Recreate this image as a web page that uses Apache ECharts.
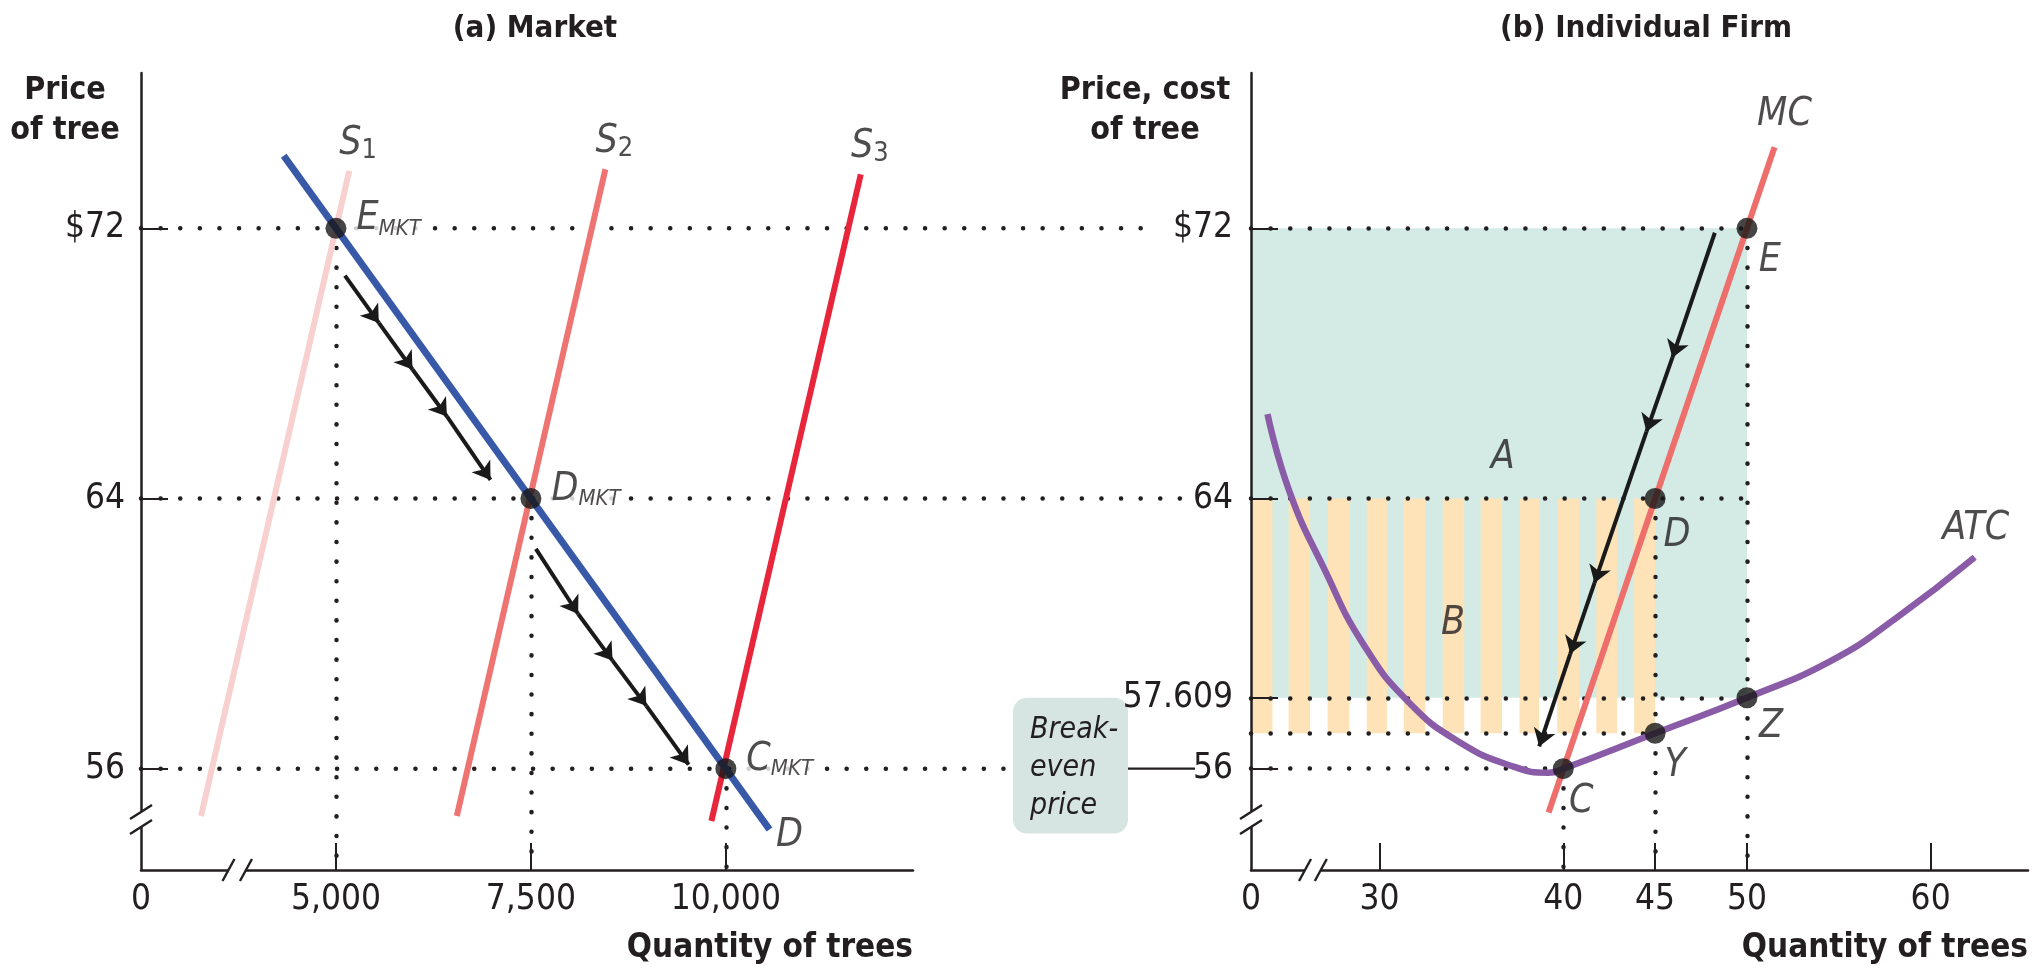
<!DOCTYPE html>
<html><head><meta charset="utf-8">
<script src="https://cdn.jsdelivr.net/npm/echarts@6/dist/echarts.min.js"></script>
<style>html,body{margin:0;padding:0;background:#fff}#c{width:2038px;height:978px}</style>
</head><body><div id="c"></div>
<script>
// ---------- DATA ----------
// Panel (a) Market
const mktQtyMin = 2500, mktQtyMax = 12400;          // axis shown with a break: 2500 is drawn as "0"
const mktQtyTickValues = [5000, 7500, 10000];
const mktQtyLabelValues = [2500, 5000, 7500, 10000];
const mktQtyLabels = ['0', '5,000', '7,500', '10,000'];
const priceMin = 53, priceMax = 76.6;
const mktPriceTickValues = [56, 64, 72];
const mktPriceLabels = ['56', '64', '$72'];
const demand = [[4330, 74.15], [10560, 54.2]];
const supply1 = [[3270, 54.6], [5170, 73.7]];
const supply2 = [[6550, 54.6], [8455, 73.75]];
const supply3 = [[9815, 54.45], [11730, 73.6]];
const mktPoints = [['E', 5000, 72], ['D', 7500, 64], ['C', 10000, 56]];
const mktArrow1 = [[5115, 70.6], [5550, 69.2], [5982, 67.82], [6423, 66.43], [6982, 64.55]];
const mktArrow2 = [[7564, 62.51], [8106, 60.58], [8547, 59.2], [8981, 57.86], [9523, 56.12]];
const mktAxisBreakQ = [3622, 3846];
const axisBreakP = [54.72, 54.27];

// Panel (b) Individual firm
const firmQtyMin = 23, firmQtyMax = 65.3;            // 23 is drawn as "0" (axis break)
const firmQtyTickValues = [30, 40, 45, 50, 60];
const firmQtyLabelValues = [23, 30, 40, 45, 50, 60];
const firmQtyLabels = ['0', '30', '40', '45', '50', '60'];
const firmPriceTickValues = [56, 58.1, 64, 72];
const firmPriceLabels = ['56', '57.609', '64', '$72'];
const mc = [[39.2, 54.7], [51.5, 74.4]];
const atc = [[23.9, 66.5], [25.1, 64.2], [27, 61.9], [29.1, 59.7], [31.6, 57.96], [34.4, 56.77],
             [37.3, 56.06], [39.2, 55.88], [40, 56], [45, 57.05], [50, 58.1], [54.6, 59.2],
             [58.1, 60.45], [62.4, 62.26]];
const firmPoints = [['E', 50, 72], ['D', 45, 64], ['C', 40, 56], ['Y', 45, 57.05], ['Z', 50, 58.1]];
const firmArrow = [[48.25, 71.87], [45.94, 68.17], [44.53, 65.98], [41.7, 61.5], [40.38, 59.4], [38.69, 56.66]];
const profitArea = {q: [23, 50], p: [58.1, 72]};     // region A (teal)
const lossBand = {p: [57.05, 64]};                   // region B (striped)
const lossStripes = [[23, 24.17], [25.05, 26.22], [27.17, 28.35], [29.3, 30.4], [31.32, 32.49],
                     [33.44, 34.61], [35.5, 36.67], [37.62, 38.68], [39.67, 40.88], [41.8, 42.93], [43.86, 45]];
const firmGuidesH = [[72, 50], [64, 50], [58.1, 50], [57.05, 45], [56, 40]]; // [price, to quantity]
const firmGuidesV = [[50, 72], [45, 64], [40, 56]];                           // [quantity, from price]
const regionLabels = [['A', 36.7, 65.2], ['B', 34, 60.3]];
const firmAxisBreakQ = [25.94, 26.8];
const breakEvenText = 'Break-\neven\nprice';

// ---------- STYLE ----------
const FONT = "'Liberation Sans Narrow','DejaVu Sans Condensed','Liberation Sans',sans-serif";
const INK = '#231f20';
const dotLine = {type: [0.1, 19.5], cap: 'round', width: 4.5, color: INK};
const rich = {
  i: {fontFamily: FONT, fontStyle: 'italic', fontSize: 39, color: INK, lineHeight: 42},
  sub: {fontFamily: FONT, fontStyle: 'italic', fontSize: 22, color: INK, lineHeight: 12, verticalAlign: 'bottom'},
  n: {fontFamily: FONT, fontSize: 27, color: INK, lineHeight: 14, verticalAlign: 'bottom'}
};

function segs(arr) { const s = []; for (let i = 0; i < arr.length - 1; i++) s.push({coords: [arr[i], arr[i + 1]]}); return s; }

function makeXAxis(grid, min, max, ticks, labVals, labs) {
  return {
    gridIndex: grid, type: 'value', min: min, max: max, z: 5,
    axisLine: {onZero: false, lineStyle: {color: INK, width: 2.5}},
    axisTick: {inside: true, length: 27, customValues: ticks, lineStyle: {color: INK, width: 2}},
    axisLabel: {customValues: labVals, formatter: v => labs[labVals.indexOf(v)], fontFamily: FONT, fontSize: 35, color: INK, margin: 12},
    splitLine: {show: false},
    name: 'Quantity of trees', nameLocation: 'end', nameGap: 0,
    nameTextStyle: {fontFamily: FONT, fontWeight: 'bold', fontSize: 33, color: INK, align: 'right', verticalAlign: 'top', padding: [62, 0, 0, 0]}
  };
}
function makeYAxis(grid, ticks, labs, margin) {
  return {
    gridIndex: grid, type: 'value', min: priceMin, max: priceMax, z: 10,
    axisLine: {onZero: false, lineStyle: {color: INK, width: 2.5}},
    axisTick: {inside: true, length: 27, customValues: ticks, lineStyle: {color: INK, width: 2}},
    axisLabel: {customValues: ticks, formatter: v => labs[ticks.indexOf(v)], fontFamily: FONT, fontSize: 35, color: INK, margin: margin},
    splitLine: {show: false}
  };
}

const lineS = (data, color, width, xi, z) => ({type: 'line', xAxisIndex: xi, yAxisIndex: xi, data: data, symbol: 'none',
  lineStyle: {color: color, width: width, cap: 'butt'}, silent: true, z: z || 3});

const arrowS = (data, xi) => ({type: 'lines', coordinateSystem: 'cartesian2d', xAxisIndex: xi, yAxisIndex: xi,
  data: segs(data), symbol: ['none', 'arrow'], symbolSize: [8, 17],
  lineStyle: {color: '#1a1a1a', width: 4, curveness: 0, opacity: 1}, silent: true, z: 4});

const guideS = (data, xi) => ({type: 'lines', coordinateSystem: 'cartesian2d', xAxisIndex: xi, yAxisIndex: xi,
  data: data.map(c => ({coords: c})), symbol: 'none', lineStyle: Object.assign({opacity: 1, curveness: 0}, dotLine), silent: true, z: 2});

const textS = (items, xi, z) => ({type: 'scatter', xAxisIndex: xi, yAxisIndex: xi, symbolSize: 1, silent: true,
  itemStyle: {color: 'rgba(0,0,0,0)'}, z: z || 8, data: items});

// market guide lines: from each point down to the axis
const mktGuides = mktPoints.map(p => [[p[1], p[2]], [p[1], priceMin]]);
// firm guides
const firmGuides = firmGuidesH.map(g => [[firmQtyMin, g[0]], [g[1], g[0]]])
  .concat(firmGuidesV.map(g => [[g[0], g[1]], [g[0], priceMin]]));

const rightOff = {E: [23, 33], D: [22, 37], C: [18, 33], Y: [20, 33], Z: [24, 29]};

const option = {
  animation: false,
  backgroundColor: '#ffffff',
  textStyle: {fontFamily: FONT},
  title: [
    {text: '(a) Market', left: 530, top: 8, textAlign: 'center', textStyle: {fontFamily: FONT, fontWeight: 'bold', fontSize: 31, color: INK}},
    {text: '(b) Individual Firm', left: 1641, top: 8, textAlign: 'center', textStyle: {fontFamily: FONT, fontWeight: 'bold', fontSize: 31, color: INK}},
    {text: 'Price\nof tree', left: 60, top: 66, textAlign: 'center', textStyle: {fontFamily: FONT, fontWeight: 'bold', fontSize: 32, lineHeight: 40, color: INK}},
    {text: 'Price, cost\nof tree', left: 1140, top: 66, textAlign: 'center', textStyle: {fontFamily: FONT, fontWeight: 'bold', fontSize: 32, lineHeight: 40, color: INK}}
  ],
  grid: [
    {left: 141, right: 1125, top: 73, bottom: 108},
    {left: 1251, right: 10, top: 73, bottom: 108}
  ],
  xAxis: [
    makeXAxis(0, mktQtyMin, mktQtyMax, mktQtyTickValues, mktQtyLabelValues, mktQtyLabels),
    makeXAxis(1, firmQtyMin, firmQtyMax, firmQtyTickValues, firmQtyLabelValues, firmQtyLabels)
  ],
  yAxis: [
    makeYAxis(0, mktPriceTickValues, mktPriceLabels, 16),
    makeYAxis(1, firmPriceTickValues, firmPriceLabels, 18)
  ],
  series: [
    // ---- market ----
    guideS(mktGuides, 0),
    lineS(supply1, '#f8d0d0', 6, 0),
    lineS(supply2, '#ee7471', 6, 0),
    lineS(supply3, '#e8263b', 6, 0),
    lineS(demand, '#3858a8', 7, 0),
    arrowS(mktArrow1, 0),
    arrowS(mktArrow2, 0),
    {type: 'scatter', xAxisIndex: 0, yAxisIndex: 0, symbolSize: 21, itemStyle: {color: '#161616'}, silent: true, z: 6,
     data: mktPoints.map(p => ({value: [p[1], p[2]], label: {show: true, position: 'right', distance: 8, offset: [0, -9],
       backgroundColor: '#ffffff', padding: [0, 3, 0, 2],
       formatter: '{i|' + p[0] + '}{sub|MKT}', rich: rich}}))},
    textS([
      {value: supply1[1], label: {show: true, position: 'top', distance: 0, offset: [9, -6], formatter: '{i|S}{n|1}', rich: rich}},
      {value: supply2[1], label: {show: true, position: 'top', distance: 0, offset: [9, -6], formatter: '{i|S}{n|2}', rich: rich}},
      {value: supply3[1], label: {show: true, position: 'top', distance: 0, offset: [9, -6], formatter: '{i|S}{n|3}', rich: rich}},
      {value: demand[1], label: {show: true, position: 'inside', offset: [20, 6], formatter: '{i|D}', rich: rich}}
    ], 0),
    // ---- firm ----
    {type: 'line', xAxisIndex: 1, yAxisIndex: 1, data: [[profitArea.q[0], profitArea.p[0]]], symbol: 'none', silent: true, z: 1,
     lineStyle: {width: 0},
     markArea: {silent: true, label: {show: false},
       data: [[{coord: [profitArea.q[0], profitArea.p[0]], itemStyle: {color: '#d3ebe4'}}, {coord: [profitArea.q[1], profitArea.p[1]]}]]
         .concat(lossStripes.map(s => [{coord: [s[0], lossBand.p[0]], itemStyle: {color: '#fde3b7'}}, {coord: [s[1], lossBand.p[1]]}]))
     }},
    guideS(firmGuides, 1),
    lineS(mc, '#ee6e6b', 6, 1),
    Object.assign(lineS(atc, '#8a5ca8', 6.5, 1), {smooth: 0.5}),
    arrowS(firmArrow, 1),
    {type: 'scatter', xAxisIndex: 1, yAxisIndex: 1, symbolSize: 21, itemStyle: {color: '#161616'}, silent: true, z: 6,
     data: firmPoints.map(p => ({value: [p[1], p[2]], label: {show: true, position: 'inside', offset: rightOff[p[0]],
       formatter: '{i|' + p[0] + '}', rich: rich}}))},
    textS(regionLabels.map(r => ({value: [r[1], r[2]], label: {show: true, position: 'inside', formatter: '{i|' + r[0] + '}', rich: rich}})), 1),
    textS([
      {value: mc[1], label: {show: true, position: 'inside', offset: [10, -32], formatter: '{i|MC}', rich: rich}},
      {value: atc[atc.length - 1], label: {show: true, position: 'inside', offset: [1, -28], formatter: '{i|ATC}', rich: rich}}
    ], 1)
  ]
};

const chart = echarts.init(document.getElementById('c'));
chart.setOption(option);

// ---------- cross-panel guides, break-even box and axis breaks (positions from the axes) ----------
const L = (q, p) => chart.convertToPixel({gridIndex: 0}, [q, p]);
const R = (q, p) => chart.convertToPixel({gridIndex: 1}, [q, p]);
const dotStyle = {stroke: INK, lineWidth: 4.5, lineDash: [0.1, 19.5], lineCap: 'round', fill: null};
const els = [];
const rAxisX = R(firmQtyMin, 60)[0];
const boxTop = R(firmQtyMin, 58.1)[1], boxBottom = R(firmQtyMin, 54.08)[1];
const boxLeft = rAxisX - 238, boxW = 115;
[[72, rAxisX - 92], [64, rAxisX - 62], [56, boxLeft - 2]].forEach(d => {
  const a = L(mktQtyMin, d[0]);
  els.push({type: 'line', silent: true, z: 2, shape: {x1: a[0], y1: a[1], x2: d[1], y2: a[1]}, style: dotStyle});
});
els.push({type: 'rect', silent: true, z: 2, shape: {x: boxLeft, y: boxTop, width: boxW, height: boxBottom - boxTop, r: 14}, style: {fill: '#d6e5e2'}});
els.push({type: 'text', silent: true, z: 3, x: boxLeft + 17, y: boxTop + 13,
  style: {text: breakEvenText, fontFamily: FONT, fontStyle: 'italic', fontSize: 30, lineHeight: 38, fill: INK, align: 'left', verticalAlign: 'top'}});
const y56 = R(firmQtyMin, 56)[1];
els.push({type: 'line', silent: true, z: 3, shape: {x1: boxLeft + boxW, y1: y56, x2: rAxisX - 56, y2: y56}, style: {stroke: INK, lineWidth: 2.2}});

function addYBreak(px) {
  const x = px[0][0], a = px[0][1], b = px[1][1];
  els.push({type: 'polygon', silent: true, z: 20, shape: {points: [[x - 11, a + 7], [x + 11, a - 7], [x + 11, b - 7], [x - 11, b + 7]]}, style: {fill: '#fff'}});
  [a, b].forEach(c => els.push({type: 'line', silent: true, z: 21, shape: {x1: x - 11, y1: c + 7, x2: x + 11, y2: c - 7}, style: {stroke: INK, lineWidth: 2.4}}));
}
function addXBreak(p1, p2) {
  const y = p1[1], a = p1[0], b = p2[0];
  els.push({type: 'polygon', silent: true, z: 20, shape: {points: [[a - 6, y + 11], [a + 6, y - 11], [b + 6, y - 11], [b - 6, y + 11]]}, style: {fill: '#fff'}});
  [a, b].forEach(c => els.push({type: 'line', silent: true, z: 21, shape: {x1: c - 6, y1: y + 11, x2: c + 6, y2: y - 11}, style: {stroke: INK, lineWidth: 2.4}}));
}
addYBreak([L(mktQtyMin, axisBreakP[0]), L(mktQtyMin, axisBreakP[1])]);
addYBreak([R(firmQtyMin, axisBreakP[0]), R(firmQtyMin, axisBreakP[1])]);
addXBreak(L(mktAxisBreakQ[0], priceMin), L(mktAxisBreakQ[1], priceMin));
addXBreak(R(firmAxisBreakQ[0], priceMin), R(firmAxisBreakQ[1], priceMin));
chart.setOption({graphic: {elements: els}});
</script>
</body></html>
